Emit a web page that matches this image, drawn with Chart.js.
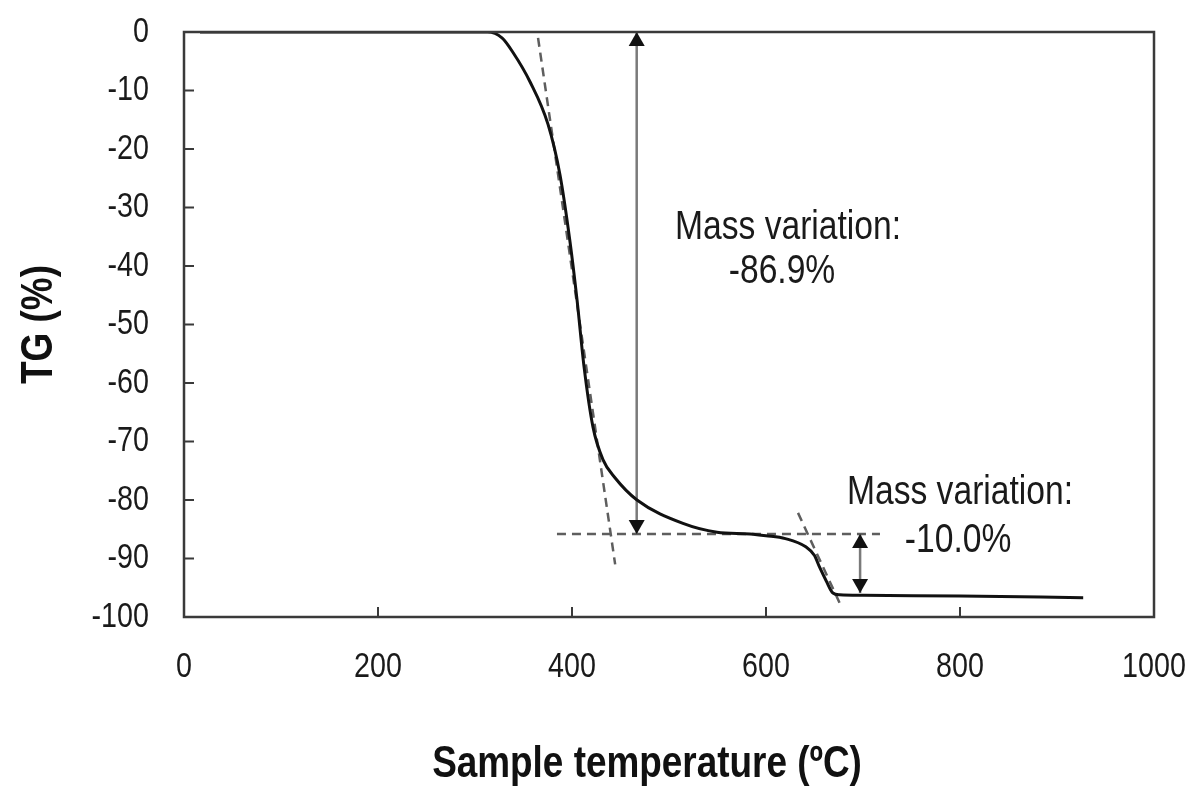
<!DOCTYPE html>
<html lang="en">
  <head>
    <meta charset="UTF-8" />
    <title>TG curve</title>
    <script src="https://cdn.jsdelivr.net/npm/chart.js"></script>
    <style>
      html, body { margin: 0; padding: 0; background: #fff; }
    </style>
  </head>
  <body>
    <canvas id="tgChart" width="1196" height="792"></canvas>
    <script>
      const FONT = '"Liberation Sans", Arial, sans-serif';
      const NARROW = 0.82; // the figure uses a condensed face, squeeze text to match

      // TG curve (temperature in ºC, mass change in %)
      const temperature = [16.5, 100, 200, 300, 313, 327.8, 339.2, 356.7, 375.3, 387.6, 397.9, 405.2, 412.4, 421.6, 431.9, 444.3, 467, 514.4, 549.5, 583.5, 600, 620, 641, 650, 655, 662, 669, 676, 700, 800, 927];
      const tgValues = [0, 0, 0, 0, 0, -1.0, -3.5, -8.5, -15.8, -24.4, -35.8, -45.8, -57.2, -67.5, -73.1, -76.2, -80, -84, -85.5, -85.8, -86.1, -86.6, -88, -89.5, -91.4, -93.8, -95.9, -96.2, -96.3, -96.4, -96.7];

      // tangent construction lines
      const tangent1T = [365, 444.5];
      const tangent1TG = [-1, -91];
      const plateauT = [384.5, 717.5];
      const plateauTG = [-85.8, -85.8];
      const tangent2T = [633, 678.4];
      const tangent2TG = [-82.2, -98.5];

      // double arrows for the two mass steps
      const arrowT = [466.7, 697];
      const arrowFromTG = [0, -85.8];
      const arrowToTG = [-85.8, -95.9];

      // annotation texts (centred on T / TG)
      const noteText = ["Mass variation:", "-86.9%", "Mass variation:", "-10.0%"];
      const noteT = [622.7, 616.5, 800, 798];
      const noteTG = [-33.4, -41, -78.8, -87];

      const xTicks = [0, 200, 400, 600, 800, 1000];
      const yTicks = [0, -10, -20, -30, -40, -50, -60, -70, -80, -90, -100];

      const pts = (xs, ys) => xs.map((x, i) => ({ x: x, y: ys[i] }));

      const dashStyle = {
        borderColor: "#5e5e5e",
        borderWidth: 2.5,
        borderDash: [9, 6],
        pointRadius: 0,
        fill: false,
      };

      const datasets = [
        {
          label: "TG",
          data: pts(temperature, tgValues),
          borderColor: "#111",
          borderWidth: 3,
          pointRadius: 0,
          cubicInterpolationMode: "monotone",
          fill: false,
        },
        Object.assign({ label: "tangent 1", data: pts(tangent1T, tangent1TG) }, dashStyle),
        Object.assign({ label: "plateau", data: pts(plateauT, plateauTG) }, dashStyle),
        Object.assign({ label: "tangent 2", data: pts(tangent2T, tangent2TG) }, dashStyle),
      ];
      arrowT.forEach((t, i) => {
        datasets.push({
          label: "arrow " + (i + 1),
          data: pts([t, t], [arrowFromTG[i], arrowToTG[i]]),
          borderColor: "#7a7a7a",
          borderWidth: 2.5,
          pointRadius: 0,
          fill: false,
        });
      });

      function narrowText(ctx, txt, x, y, font, align, angle) {
        ctx.save();
        ctx.translate(x, y);
        if (angle) ctx.rotate(angle);
        ctx.scale(NARROW, 1);
        ctx.font = font;
        ctx.textAlign = align;
        ctx.textBaseline = "middle";
        ctx.fillText(txt, 0, 0);
        ctx.restore();
      }

      const framePlugin = {
        id: "frame",
        afterDatasetsDraw(chart) {
          const { ctx, chartArea: a, scales } = chart;
          const xs = scales.x, ys = scales.y;
          ctx.save();

          // arrow heads
          ctx.fillStyle = "#111";
          arrowT.forEach((t, i) => {
            const px = xs.getPixelForValue(t);
            const top = ys.getPixelForValue(arrowFromTG[i]);
            const bot = ys.getPixelForValue(arrowToTG[i]);
            ctx.beginPath();
            ctx.moveTo(px, top);
            ctx.lineTo(px - 8, top + 14);
            ctx.lineTo(px + 8, top + 14);
            ctx.closePath();
            ctx.fill();
            ctx.beginPath();
            ctx.moveTo(px, bot);
            ctx.lineTo(px - 8, bot - 14);
            ctx.lineTo(px + 8, bot - 14);
            ctx.closePath();
            ctx.fill();
          });

          // plot box
          ctx.strokeStyle = "#3a3a3a";
          ctx.lineWidth = 2.5;
          ctx.strokeRect(a.left, a.top, a.right - a.left, a.bottom - a.top);

          // inner tick marks
          ctx.lineWidth = 2;
          ctx.beginPath();
          yTicks.forEach((v) => {
            const py = ys.getPixelForValue(v);
            ctx.moveTo(a.left, py);
            ctx.lineTo(a.left + 10, py);
          });
          xTicks.forEach((v) => {
            const px = xs.getPixelForValue(v);
            ctx.moveTo(px, a.bottom);
            ctx.lineTo(px, a.bottom - 10);
          });
          ctx.stroke();

          // tick labels
          ctx.fillStyle = "#1a1a1a";
          const tickFont = "35px " + FONT;
          yTicks.forEach((v) => {
            narrowText(ctx, String(v), a.left - 35, ys.getPixelForValue(v), tickFont, "right");
          });
          xTicks.forEach((v) => {
            narrowText(ctx, String(v), xs.getPixelForValue(v), a.bottom + 50, tickFont, "center");
          });

          // notes
          noteText.forEach((txt, i) => {
            narrowText(ctx, txt, xs.getPixelForValue(noteT[i]), ys.getPixelForValue(noteTG[i]), "41px " + FONT, "center");
          });

          // axis titles
          ctx.fillStyle = "#111";
          narrowText(ctx, "Sample temperature (ºC)", 647, 765, "bold 45px " + FONT, "center");
          narrowText(ctx, "TG (%)", 40, (a.top + a.bottom) / 2, "bold 45px " + FONT, "center", -Math.PI / 2);
          ctx.restore();
        },
      };

      new Chart(document.getElementById("tgChart").getContext("2d"), {
        type: "line",
        data: { datasets: datasets },
        options: {
          responsive: false,
          animation: false,
          layout: { padding: { top: 32, right: 42, left: 0, bottom: 0 } },
          plugins: { legend: { display: false }, tooltip: { enabled: false } },
          scales: {
            x: {
              type: "linear",
              min: 0,
              max: 1000,
              afterBuildTicks: (s) => { s.ticks = xTicks.map((v) => ({ value: v })); },
              afterFit: (s) => { s.height = 175; },
              grid: { display: false, drawTicks: false },
              border: { display: false },
              ticks: { display: false },
            },
            y: {
              type: "linear",
              min: -100,
              max: 0,
              afterBuildTicks: (s) => { s.ticks = yTicks.map((v) => ({ value: v })); },
              afterFit: (s) => { s.width = 184; },
              grid: { display: false, drawTicks: false },
              border: { display: false },
              ticks: { display: false },
            },
          },
        },
        plugins: [framePlugin],
      });
    </script>
  </body>
</html>
